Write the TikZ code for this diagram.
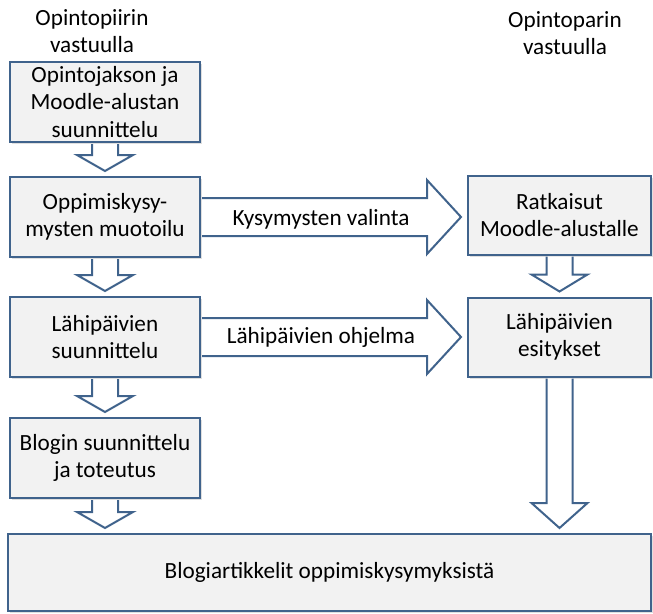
\documentclass[tikz,border=0pt]{standalone}
\usepackage{fontspec}
\setmainfont{Carlito}
\usetikzlibrary{calc,shadows,positioning}
\definecolor{boxline}{RGB}{64,99,140}
\definecolor{boxfill}{RGB}{242,242,242}
% block arrow downwards from #1 to #2, head length #3
\newcommand{\blockdown}[3]{%
  \draw[blockarrow] let \p1=(#1.south), \p2=(#2.north) in
    (\x1-13pt,\y1-1pt) -- (\x1-13pt,\y2+5pt+#3) -- (\x1-28pt,\y2+5pt+#3)
    -- (\x1,\y2+5pt) -- (\x1+28pt,\y2+5pt+#3) -- (\x1+13pt,\y2+5pt+#3)
    -- (\x1+13pt,\y1-1pt);}
% block arrow to the right from #1 to #2
\newcommand{\blockright}[2]{%
  \draw[blockarrow] let \p1=(#1.east), \p2=(#2.west) in
    (\x1+1pt,\y1+19pt) -- (\x2-40pt,\y1+19pt) -- (\x2-40pt,\y1+37pt)
    -- (\x2-6pt,\y1) -- (\x2-40pt,\y1-37pt) -- (\x2-40pt,\y1-19pt)
    -- (\x1+1pt,\y1-19pt);}

\begin{document}
\begin{tikzpicture}[x=1pt,y=-1pt,
    every node/.style={font=\fontsize{23.2}{27.5}\selectfont},
    box/.style={draw=boxline, line width=2pt, fill=boxfill, align=center,
      inner sep=0pt, drop shadow={opacity=0.25, shadow xshift=2pt, shadow yshift=-2pt}},
    leftbox/.style={box, minimum width=190pt, minimum height=80pt},
    rightbox/.style={box, minimum width=183pt, minimum height=79pt},
    blockarrow/.style={draw=boxline, line width=2pt, fill=white, line join=miter}]
  \useasboundingbox (0,0) rectangle (653,613);

  % column headings
  \node[align=center] (headL) at (92,31) {Opintopiirin\\vastuulla};
  \node[align=center] (headR) at (565,33) {Opintoparin\\vastuulla};

  % left column
  \node[leftbox] (plan) at (105,102) {Opintojakson ja\\Moodle-alustan\\suunnittelu};
  \node[leftbox] (quest) at (105,217) {Oppimiskysy-\\mysten muotoilu};
  \node[leftbox] (days) at (105,337) {Lähipäivien\\suunnittelu};
  \node[leftbox] (blog) at (105,458) {Blogin suunnittelu\\ja toteutus};

  % right column
  \node[rightbox] (sol) at (559.5,215) {Ratkaisut\\Moodle-alustalle};
  \node[rightbox] (pres) at (559.5,337) {Lähipäivien\\esitykset};

  \node[box, minimum width=643pt, minimum height=77pt] (art) at (329.5,572.5)
    {Blogiartikkelit oppimiskysymyksistä};

  % arrows
  \blockdown{plan}{quest}{16pt}
  \blockdown{quest}{days}{16pt}
  \blockdown{days}{blog}{16pt}
  \blockdown{blog}{art}{16pt}
  \blockdown{sol}{pres}{17pt}
  \blockdown{pres}{art}{25pt}
  \blockright{quest}{sol}
  \blockright{days}{pres}

  \node (lblQ) at (321,219) {Kysymysten valinta};
  \node (lblD) at (321,337) {Lähipäivien ohjelma};
\end{tikzpicture}
\end{document}
